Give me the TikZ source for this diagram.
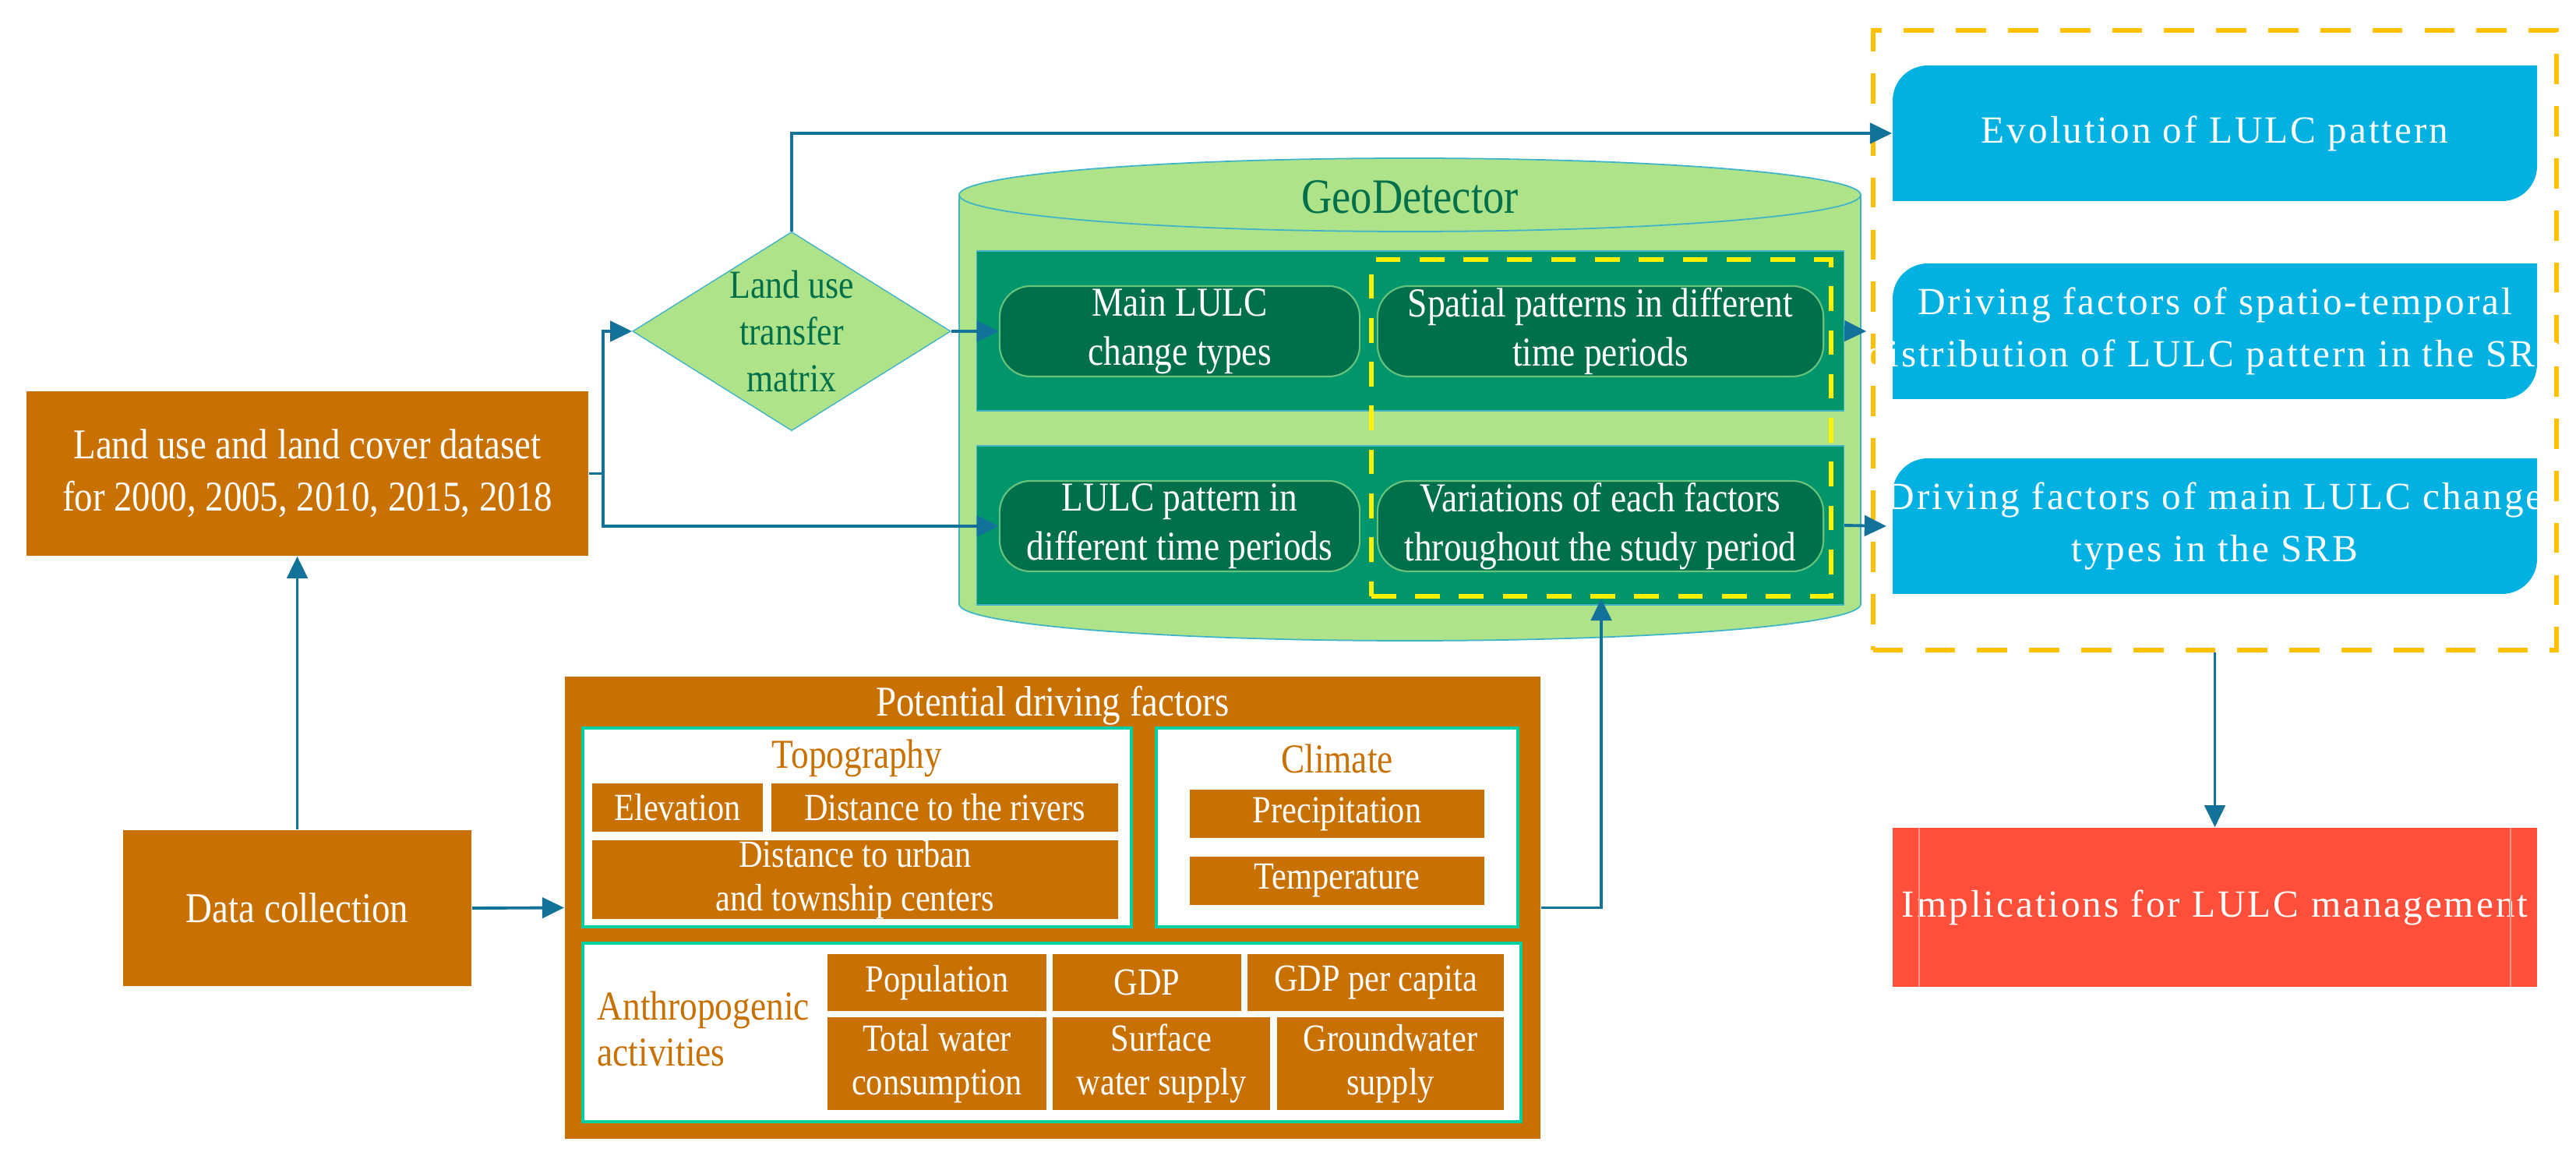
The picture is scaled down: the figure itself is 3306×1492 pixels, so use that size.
\documentclass[tikz,border=0pt]{standalone}
\usepackage{fontspec}
\setmainfont{Liberation Serif}
\newfontfamily\cond{Liberation Serif}[FakeStretch=0.86]
\newfontfamily\wide{Liberation Serif}[LetterSpace=6]
\usetikzlibrary{shapes.geometric,shapes.misc,arrows.meta}
\definecolor{orng}{HTML}{C87000}
\definecolor{cylf}{HTML}{AEE38A}
\definecolor{cyll}{HTML}{3FB4C8}
\definecolor{panel}{HTML}{00956A}
\definecolor{rbox}{HTML}{00704B}
\definecolor{bluef}{HTML}{00B1E2}
\definecolor{redf}{HTML}{FF4F3B}
\definecolor{arrc}{HTML}{13729A}
\definecolor{goldd}{HTML}{FFC000}
\definecolor{inner}{HTML}{00CFA0}
\begin{document}
\begin{tikzpicture}[x=0.01cm,y=-0.01cm,
  every node/.style={font=\cond, align=center, inner sep=0pt},
  ob/.style={fill=orng, text=white, font=\cond\fontsize{14}{16}\selectfont},
  wb/.style={fill=white, draw=inner, line width=1.2pt},
  ttl/.style={text=orng, font=\cond\fontsize{15}{17}\selectfont},
  pan/.style={chamfered rectangle, chamfered rectangle xsep=0.2cm, chamfered rectangle ysep=0.2cm, fill=panel, draw=cyll, line width=0.4pt},
  rb/.style={rounded corners=0.4cm, fill=rbox, draw=cylf!60!panel, line width=0.6pt, text=white, font=\cond\fontsize{15}{18}\selectfont},
  bt/.style={text=white, font=\wide\fontsize{14}{19}\selectfont},
  line/.style={draw=arrc, line width=1.1pt},
  arr/.style={line, -{Triangle[length=8pt,width=7.5pt]}}]
\useasboundingbox (0,0) rectangle (3306,1492);

% cylinder
\fill[cylf] (1231,250) -- (1231,775) arc[start angle=180,end angle=0,x radius=578.5,y radius=47] -- (2388,250) arc[start angle=0,end angle=-180,x radius=578.5,y radius=47] -- cycle;
\draw[cyll, line width=0.5pt] (1231,250) -- (1231,775) arc[start angle=180,end angle=0,x radius=578.5,y radius=47] -- (2388,250);
\draw[cyll, line width=0.5pt] (1809.5,250) ellipse [x radius=578.5, y radius=47];
\node[text=rbox, font=\cond\fontsize{18}{20}\selectfont] (geo) at (1809.5,253) {GeoDetector};

\node[pan, minimum width=11.12cm, minimum height=2.05cm] (up) at (1810,424.5) {};
\node[pan, minimum width=11.12cm, minimum height=2.04cm] (lo) at (1810,674) {};
\node[rb, minimum width=4.62cm, minimum height=1.16cm] (main) at (1514,425) {Main LULC\\change types};
\node[rb, minimum width=5.72cm, minimum height=1.16cm] (spat) at (2054,425) {Spatial patterns in different\\time periods};
\node[rb, minimum width=4.62cm, minimum height=1.16cm] (lpat) at (1514,675) {LULC pattern in\\different time periods};
\node[rb, minimum width=5.72cm, minimum height=1.16cm] (vari) at (2054,675) {Variations of each factors\\throughout the study period};
\node[draw=yellow, dashed, dash pattern=on 9pt off 7pt, line width=1.6pt, minimum width=5.9cm, minimum height=4.32cm] (yd) at (2055,549) {};

% left
\node[ob, font=\cond\fontsize{15.5}{19}\selectfont, minimum width=7.21cm, minimum height=2.11cm] (ds) at (394.5,607.5) {Land use and land cover dataset\\for 2000, 2005, 2010, 2015, 2018};
\node[ob, font=\cond\fontsize{15.5}{19}\selectfont, minimum width=4.47cm, minimum height=2cm] (dc) at (381.5,1165) {Data collection};
\node[diamond, fill=cylf, draw=cyll, line width=0.4pt, minimum width=3.54cm, minimum height=2.22cm, aspect=1.6, text=rbox, font=\cond\fontsize{14.5}{17}\selectfont] (dm) at (1016,425) {Land use\\transfer\\matrix};
\coordinate (sp) at (774,607.5);

% potential factors
\node[fill=orng, minimum width=12.52cm, minimum height=5.93cm] (pot) at (1351,1164.5) {};
\node[text=white, font=\cond\fontsize{15.5}{18}\selectfont] (potT) at (1351,905) {Potential driving factors};
\node[wb, minimum width=7.04cm, minimum height=2.55cm] (topo) at (1100,1061.5) {};
\node[ttl] (topoT) at (1100,973) {Topography};
\node[wb, minimum width=4.64cm, minimum height=2.55cm] (clim) at (1716,1061.5) {};
\node[ttl] (climT) at (1716,973) {Climate};
\node[ob, minimum width=2.19cm, minimum height=0.62cm] (ele) at (869.5,1036) {Elevation};
\node[ob, minimum width=4.45cm, minimum height=0.62cm] (riv) at (1212.5,1036) {Distance to the rivers};
\node[ob, minimum width=6.75cm, minimum height=1.01cm] (urb) at (1097.5,1128.5) {Distance to urban\\and township centers};
\node[ob, minimum width=3.78cm, minimum height=0.62cm] (pre) at (1716,1044) {Precipitation};
\node[ob, minimum width=3.78cm, minimum height=0.62cm] (tem) at (1716,1130) {Temperature};
\node[wb, minimum width=12.04cm, minimum height=2.29cm] (anth) at (1350,1324.5) {};
\node[ttl, anchor=west, align=left] (anthT) at (766,1320) {Anthropogenic\\activities};
\node[ob, minimum width=2.81cm, minimum height=0.73cm] (pop) at (1202.5,1260.5) {Population};
\node[ob, minimum width=2.42cm, minimum height=0.73cm] (gdp) at (1472,1260.5) {GDP};
\node[ob, minimum width=3.29cm, minimum height=0.73cm] (gpc) at (1765.5,1260.5) {GDP per capita};
\node[ob, minimum width=2.81cm, minimum height=1.19cm] (tot) at (1202.5,1364.5) {Total water\\consumption};
\node[ob, minimum width=2.79cm, minimum height=1.19cm] (sur) at (1490.5,1364.5) {Surface\\water supply};
\node[ob, minimum width=2.91cm, minimum height=1.19cm] (gro) at (1784.5,1364.5) {Groundwater\\supply};

% right
\node[draw=goldd, dashed, dash pattern=on 11pt off 8pt, line width=1.8pt, minimum width=8.77cm, minimum height=7.95cm] (od) at (2842.5,436.5) {};
\foreach \n/\yy/\t in {b1/171/{Evolution of LULC pattern},
  b2/425/{Driving factors of spatio-temporal\\distribution of LULC pattern in the SRB},
  b3/675/{Driving factors of main LULC change\\types in the SRB}}{
  \fill[bluef] (2429,\yy+87) -- (2429,\yy-42) [rounded corners=0.45cm] -- (2429,\yy-87) [sharp corners] -- (3256,\yy-87) -- (3256,\yy-42) [rounded corners=0.45cm] -- (3256,\yy+87) [sharp corners] -- (2800,\yy+87) -- cycle;
  \node[bt, minimum width=8.27cm, minimum height=1.74cm] (\n) at (2842.5,\yy) {\t};
}
\node[fill=redf, bt, minimum width=8.27cm, minimum height=2.04cm] (red) at (2842.5,1164) {Implications for LULC management};
\draw[redf!60!white, line width=0.6pt] (2463,1062) -- (2463,1266) (3222,1062) -- (3222,1266);

% connectors
\draw[line] (ds.east) -- (sp);
\draw[arr] (sp) |- (dm.west);
\draw[arr] (sp) |- (lpat.west);
\draw[arr] (dm.east) -- (main.west);
\draw[arr] (dm.north) |- (b1.west);
\draw[arr] (up.east) -- (b2.west);
\draw[arr] (lo.east) -- (b3.west);
\draw[arr] (dc.north) -- (dc.north |- ds.south);
\draw[arr] (dc.east) -- (pot.west);
\draw[arr] (pot.east) -| (yd.south);
\draw[arr] (od.south) -- (red.north);
\end{tikzpicture}
\end{document}
